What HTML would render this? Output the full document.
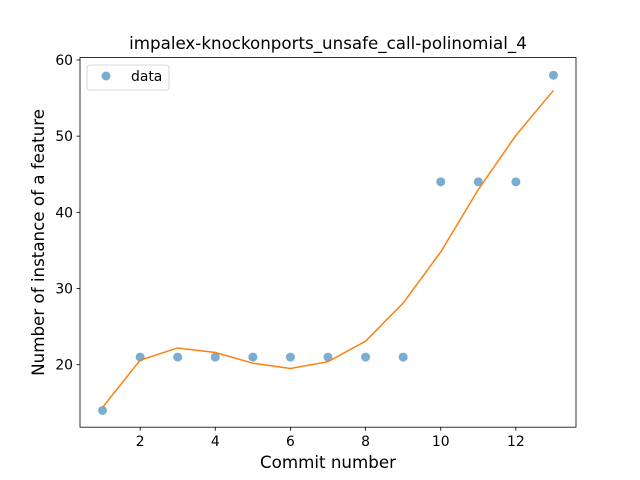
<!DOCTYPE html>
<html><head><meta charset="utf-8"><style>
body{margin:0;background:#fff;}
svg{display:block;font-family:"DejaVu Sans","Liberation Sans",sans-serif;}
</style></head><body>
<svg id="chart" width="640" height="480">
<rect width="640" height="480" fill="#fff"/>
<text x="328" y="49" text-anchor="middle" font-size="16.7">impalex-knockonports_unsafe_call-polinomial_4</text>
<g id="plot"></g>
<rect x="80" y="57.6" width="496" height="369.6" fill="none" stroke="#000" stroke-width="0.8"/>
<text x="328" y="468" text-anchor="middle" font-size="16.7">Commit number</text>
<text transform="translate(44,242.4) rotate(-90)" text-anchor="middle" font-size="16.7">Number of instance of a feature</text>
<g>
<rect x="87" y="65" width="82" height="25" rx="3" fill="#fff" stroke="#ccc" stroke-width="0.8"/>
<circle cx="106" cy="76" r="4.5" fill="#1f77b4" fill-opacity="0.6"/>
<text x="131" y="81" font-size="13.9">data</text>
</g>
</svg>
<script>
const commits=[1,2,3,4,5,6,7,8,9,10,11,12,13];
const dataValues=[14,21,21,21,21,21,21,21,21,44,44,44,58];
const fitValues=[14.4,20.6,22.2,21.6,20.2,19.5,20.4,23.1,28.1,34.8,43.0,50.1,56.0];
const xTicks=[2,4,6,8,10,12];
const yTicks=[20,30,40,50,60];
const xmin=0.4,xmax=13.6,ymin=11.8,ymax=60.31;
const L=80,R=576,T=57.6,B=427.2;
const sx=v=>L+(v-xmin)/(xmax-xmin)*(R-L);
const sy=v=>B-(v-ymin)/(ymax-ymin)*(B-T);
const NS="http://www.w3.org/2000/svg";
const g=document.getElementById('plot');
function mk(t,a){const e=document.createElementNS(NS,t);for(const k in a)e.setAttribute(k,a[k]);g.appendChild(e);return e;}
xTicks.forEach(v=>{
 const l=mk('line',{x1:sx(v),x2:sx(v),y1:B,y2:B+3.5,stroke:'#000','stroke-width':0.8});
 
 
 const t=mk('text',{x:sx(v),y:B+19,'text-anchor':'middle','font-size':13.9});
 t.textContent=v;
 
 
});
yTicks.forEach(v=>{
 const l=mk('line',{x1:L-3.5,x2:L,y1:sy(v),y2:sy(v),stroke:'#000','stroke-width':0.8});
 
 
 const t=mk('text',{x:L-7,y:sy(v)+5,'text-anchor':'end','font-size':13.9});
 t.textContent=v;
 
 
});
dataValues.forEach((v,i)=>{
 const c=mk('circle',{cx:sx(commits[i]),cy:sy(v),r:4.5,fill:'#1f77b4','fill-opacity':0.6});
 
 
});
const p=mk('polyline',{points:fitValues.map((v,i)=>sx(commits[i])+','+sy(v)).join(' '),fill:'none',stroke:'#ff7f0e','stroke-width':1.5});


</script>
</body></html>
